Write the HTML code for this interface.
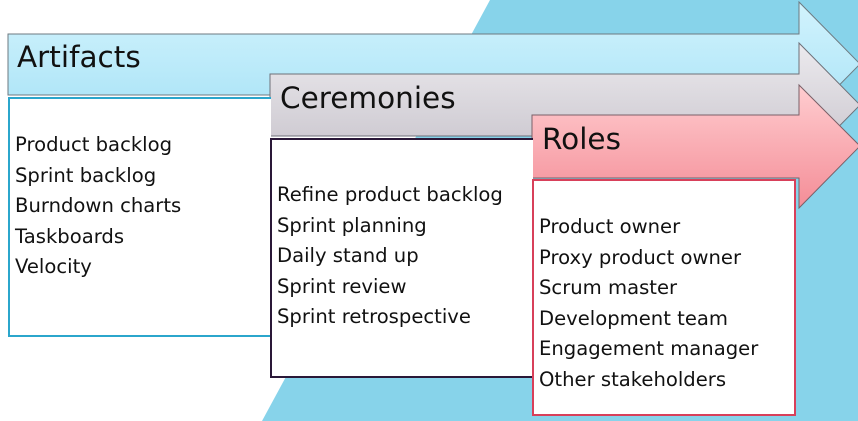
<!DOCTYPE html>
<html><head><style>
body{margin:0;width:858px;height:421px;overflow:hidden;background:#fff;font-family:"DejaVu Sans","Liberation Sans",sans-serif;}
.t{position:absolute;font-size:29.5px;color:#111;}
.box{position:absolute;background:#fff;box-sizing:border-box;}
.l{position:absolute;font-size:19.6px;line-height:30.6px;color:#111;white-space:nowrap;}
</style></head><body>
<svg width="858" height="421" style="position:absolute;left:0;top:0">
<defs>
<linearGradient id="ga" x1="0" y1="0" x2="0" y2="1"><stop offset="0" stop-color="#d2f3fd"/><stop offset="1" stop-color="#a6e2f6"/></linearGradient>
<linearGradient id="gc" x1="0" y1="0" x2="0" y2="1"><stop offset="0" stop-color="#eceaee"/><stop offset="1" stop-color="#c6c2ca"/></linearGradient>
<linearGradient id="gr" x1="0" y1="0" x2="0" y2="1"><stop offset="0" stop-color="#ffcdd0"/><stop offset="1" stop-color="#f48d97"/></linearGradient>
</defs>
<polygon points="490,0 858,0 858,421 262,421" fill="#87d3ea"/>
<polygon points="8,34 799,34 799,2 860,64 799,126 799,95 8,95" fill="url(#ga)" stroke="#6e7a80" stroke-width="1"/>
<polygon points="270,74 799,74 799,43 860,105 799,167 799,136 270,136" fill="url(#gc)" stroke="#6e7078" stroke-width="1"/>
<polygon points="532,115 799,115 799,85 860,146 799,208 799,178 532,178" fill="url(#gr)" stroke="#7a6068" stroke-width="1"/>
</svg>
<div class="t" style="left:17px;top:40px">Artifacts</div>
<div class="t" style="left:280px;top:81px">Ceremonies</div>
<div class="t" style="left:542px;top:122px">Roles</div>
<div class="box" style="left:8px;top:97px;width:263px;height:240px;border:2px solid #2ba6cc;border-right:none"></div>
<div class="box" style="left:270px;top:138px;width:263px;height:240px;border:2px solid #2a1838;border-right:none"></div>
<div class="box" style="left:532px;top:179px;width:264px;height:237px;border:2px solid #d8405a"></div>
<div class="l" style="left:15px;top:130px">Product backlog<br>Sprint backlog<br>Burndown charts<br>Taskboards<br>Velocity</div>
<div class="l" style="left:277px;top:180px">Refine product backlog<br>Sprint planning<br>Daily stand up<br>Sprint review<br>Sprint retrospective</div>
<div class="l" style="left:539px;top:212px">Product owner<br>Proxy product owner<br>Scrum master<br>Development team<br>Engagement manager<br>Other stakeholders</div>
</body></html>
